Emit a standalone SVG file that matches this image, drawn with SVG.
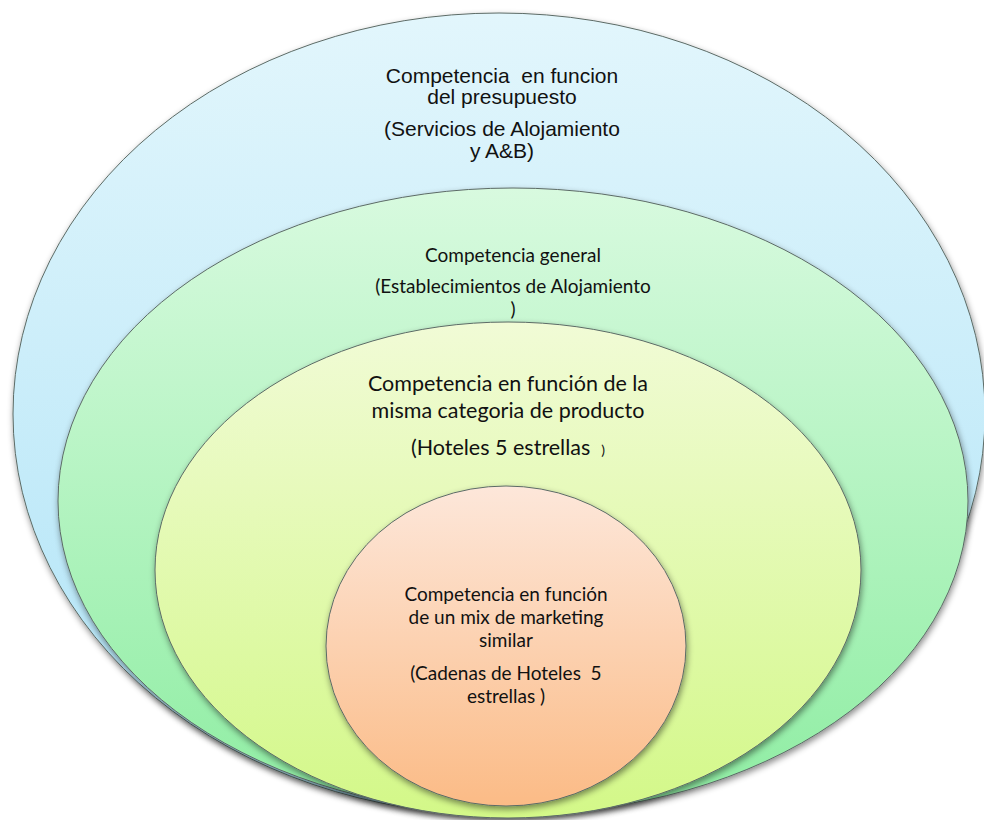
<svg xmlns="http://www.w3.org/2000/svg" width="984" height="820" viewBox="0 0 984 820">
  <defs>
    <linearGradient id="gBlue" x1="0" y1="0" x2="0" y2="1">
      <stop offset="0" stop-color="#e2f6fc"/>
      <stop offset="1" stop-color="#aee3f7"/>
    </linearGradient>
    <linearGradient id="gGreen" x1="0" y1="0" x2="0" y2="1">
      <stop offset="0" stop-color="#d8fadf"/>
      <stop offset="1" stop-color="#8eeda2"/>
    </linearGradient>
    <linearGradient id="gYellow" x1="0" y1="0" x2="0" y2="1">
      <stop offset="0" stop-color="#f1fbd6"/>
      <stop offset="1" stop-color="#d3f888"/>
    </linearGradient>
    <linearGradient id="gOrange" x1="0" y1="0" x2="0" y2="1">
      <stop offset="0" stop-color="#fde7da"/>
      <stop offset="1" stop-color="#fbbb86"/>
    </linearGradient>
    <filter id="shadow" x="-10%" y="-10%" width="120%" height="125%">
      <feDropShadow dx="1" dy="3" stdDeviation="3" flood-color="#000" flood-opacity="0.45"/>
    </filter>
  </defs>
  <style>
    .ring { stroke: #5c6b66; stroke-width: 1; filter: url(#shadow); }
    .arial { font-family: "Liberation Sans", Arial, sans-serif; font-size: 21px; fill: #111; text-anchor: middle; white-space: pre; }
    .cal { font-family: Lato, "Noto Sans", sans-serif; fill: #111; text-anchor: middle; white-space: pre; }
  </style>

  <rect width="984" height="820" fill="#ffffff"/>

  <!-- outer ring: budget-based competition -->
  <g id="ring-presupuesto">
    <ellipse class="ring" cx="499" cy="414" rx="486" ry="401" fill="url(#gBlue)"/>
    <text class="arial" x="502" y="83">Competencia  en funcion</text>
    <text class="arial" x="502" y="104">del presupuesto</text>
    <text class="arial" x="502" y="136">(Servicios de Alojamiento</text>
    <text class="arial" x="502" y="158">y A&amp;B)</text>
  </g>

  <!-- second ring: general competition -->
  <g id="ring-general">
    <ellipse class="ring" cx="513" cy="501" rx="455" ry="313" fill="url(#gGreen)"/>
    <text class="cal" font-size="19" x="513" y="262">Competencia general</text>
    <text class="cal" font-size="19" x="513" y="293">(Establecimientos de Alojamiento</text>
    <text class="cal" font-size="19" x="513" y="316">)</text>
  </g>

  <!-- third ring: same product category -->
  <g id="ring-categoria">
    <ellipse class="ring" cx="508" cy="570" rx="353" ry="248" fill="url(#gYellow)"/>
    <text class="cal" font-size="21.5" x="508" y="391">Competencia en función de la</text>
    <text class="cal" font-size="21.5" x="508" y="418">misma categoria de producto</text>
    <text class="cal" font-size="21.5" x="508" y="455">(Hoteles 5 estrellas  <tspan font-size="14">)</tspan></text>
  </g>

  <!-- core: similar marketing mix -->
  <g id="ring-marketing">
    <ellipse class="ring" cx="506" cy="646" rx="180" ry="160" fill="url(#gOrange)"/>
    <text class="cal" font-size="19" x="506" y="601">Competencia en función</text>
    <text class="cal" font-size="19" x="506" y="624">de un mix de marketing</text>
    <text class="cal" font-size="19" x="506" y="647">similar</text>
    <text class="cal" font-size="19" x="506" y="680">(Cadenas de Hoteles  5</text>
    <text class="cal" font-size="19" x="506" y="703">estrellas )</text>
  </g>
</svg>
